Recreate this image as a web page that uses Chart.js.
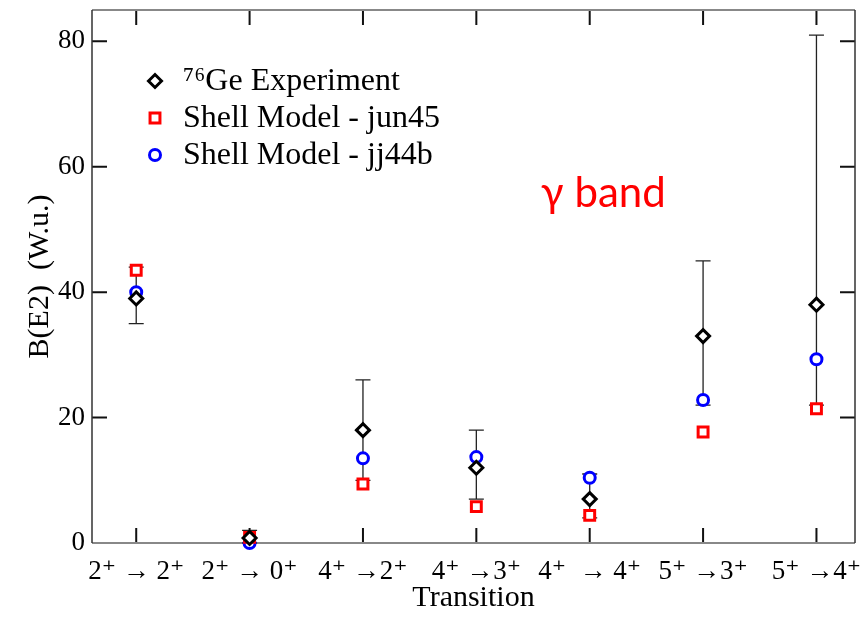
<!DOCTYPE html>
<html><head><meta charset="utf-8">
<script src="https://cdn.jsdelivr.net/npm/chart.js@4.4.1/dist/chart.umd.min.js"></script>
<style>html,body{margin:0;padding:0;background:#fff}#wrap{width:865px;height:620px}</style>
</head><body><div id="wrap"><canvas id="c" width="865" height="620"></canvas></div>
<script>
// ---- data ----
const categories = ['2\u207A \u2192 2\u207A', '2\u207A \u2192 0\u207A', '4\u207A \u21922\u207A', '4\u207A \u21923\u207A', '4\u207A  \u2192 4\u207A', '5\u207A \u21923\u207A', '5\u207A \u21924\u207A'];
const experiment = [39, 0.8, 18, 12, 7, 33, 38];
const expLow     = [35, 0.0, 10, 7, 4, 22, 22];
const expHigh    = [44, 2.0, 26, 18, 11, 45, 81];
const jun45      = [43.5, 0.9, 9.4, 5.8, 4.4, 17.7, 21.4];
const jj44b      = [40, 0.0, 13.5, 13.7, 10.4, 22.8, 29.3];
const yTicks     = [0, 20, 40, 60, 80];
const seriesNames = ['\u2077\u2076Ge Experiment', 'Shell Model - jun45', 'Shell Model - jj44b'];
const bandLabel = '\u03B3 band';

const SERIF = "'Liberation Serif', 'Times New Roman', 'DejaVu Serif', serif";
const toPts = arr => arr.map((v, i) => ({x: i + 1, y: v}));

const errorBars = {
  id: 'errorBars',
  beforeDatasetsDraw(chart) {
    const {ctx, scales: {x, y}} = chart;
    ctx.save();
    ctx.strokeStyle = '#222';
    ctx.lineWidth = 1.3;
    experiment.forEach((v, i) => {
      const px = x.getPixelForValue(i + 1);
      const yl = y.getPixelForValue(expLow[i]);
      const yh = y.getPixelForValue(expHigh[i]);
      ctx.beginPath();
      ctx.moveTo(px, yl); ctx.lineTo(px, yh);
      ctx.moveTo(px - 7.5, yl); ctx.lineTo(px + 7.5, yl);
      ctx.moveTo(px - 7.5, yh); ctx.lineTo(px + 7.5, yh);
      ctx.stroke();
    });
    ctx.restore();
  }
};

const frame = {
  id: 'frame',
  beforeDatasetsDraw(chart) {
    const {ctx, chartArea: a, scales: {x, y}} = chart;
    ctx.save();
    ctx.strokeStyle = '#111';
    ctx.lineWidth = 2;
    const L = 15;
    y.ticks.forEach(t => {
      const py = y.getPixelForValue(t.value);
      ctx.beginPath();
      ctx.moveTo(a.left, py); ctx.lineTo(a.left + L, py);
      ctx.moveTo(a.right, py); ctx.lineTo(a.right - L, py);
      ctx.stroke();
    });
    x.ticks.forEach(t => {
      const px = x.getPixelForValue(t.value);
      ctx.beginPath();
      ctx.moveTo(px, a.bottom); ctx.lineTo(px, a.bottom - L);
      ctx.moveTo(px, a.top); ctx.lineTo(px, a.top + L);
      ctx.stroke();
    });
    ctx.lineWidth = 2;
    ctx.strokeStyle = '#888';
    ctx.beginPath();
    ctx.moveTo(a.left, a.top); ctx.lineTo(a.right, a.top);
    ctx.moveTo(a.left, a.bottom); ctx.lineTo(a.right, a.bottom);
    ctx.stroke();
    ctx.strokeStyle = '#333';
    ctx.lineWidth = 1.5;
    ctx.beginPath();
    ctx.moveTo(a.left, a.top); ctx.lineTo(a.left, a.bottom);
    ctx.moveTo(a.right, a.top); ctx.lineTo(a.right, a.bottom);
    ctx.stroke();
    ctx.restore();
  }
};

function drawMarker(ctx, ds, mx, my) {
  ctx.save();
  ctx.fillStyle = ds.backgroundColor;
  ctx.strokeStyle = ds.borderColor;
  ctx.lineWidth = ds.borderWidth;
  Chart.helpers.drawPoint(ctx, {pointStyle: ds.pointStyle, radius: ds.pointRadius, borderWidth: ds.borderWidth, rotation: 0}, mx, my);
  ctx.restore();
}

const insideLegend = {
  id: 'insideLegend',
  afterDraw(chart) {
    const {ctx, chartArea: a} = chart;
    ctx.save();
    ctx.font = '32px ' + SERIF;
    ctx.textAlign = 'left';
    ctx.textBaseline = 'alphabetic';
    chart.data.datasets.forEach((ds, i) => {
      const base = a.top + 80 + i * 37;
      drawMarker(ctx, ds, a.left + 63, base - 9);
      ctx.fillStyle = '#000';
      ctx.fillText(ds.label, a.left + 91, base);
    });
    // gamma band annotation
    const {x, y} = chart.scales;
    ctx.font = "42px Lato, 'Open Sans', sans-serif";
    ctx.fillStyle = '#ff0000';
    ctx.textAlign = 'center';
    ctx.fillText(bandLabel, x.getPixelForValue(5.12), y.getPixelForValue(53.6));
    ctx.restore();
  }
};

new Chart(document.getElementById('c'), {
  type: 'scatter',
  data: {
    datasets: [
      {label: seriesNames[0], data: toPts(experiment), pointStyle: 'rectRot', pointRadius: 6.5, pointHoverRadius: 6.5,
       borderWidth: 3, borderColor: '#000', backgroundColor: '#fff', clip: false},
      {label: seriesNames[1], data: toPts(jun45), pointStyle: 'rect', pointRadius: 7, pointHoverRadius: 7,
       borderWidth: 3, borderColor: '#ff0000', backgroundColor: '#fff', clip: false},
      {label: seriesNames[2], data: toPts(jj44b), pointStyle: 'circle', pointRadius: 5.5, pointHoverRadius: 5.5,
       borderWidth: 3, borderColor: '#0000ff', backgroundColor: '#fff', clip: false}
    ]
  },
  options: {
    responsive: false,
    animation: false,
    events: [],
    layout: {padding: {top: 10, right: 10, left: 0, bottom: 0}},
    plugins: {legend: {display: false}, tooltip: {enabled: false}},
    scales: {
      x: {
        type: 'linear', min: 0.61, max: 7.34,
        afterBuildTicks: s => { s.ticks = categories.map((c, i) => ({value: i + 1})); },
        afterFit: s => { s.height = 77; s.paddingLeft = 0; s.paddingRight = 0; },
        grid: {display: false, drawTicks: false},
        border: {display: false},
        ticks: {
          autoSkip: false, maxRotation: 0, padding: 13, color: '#000',
          font: {family: SERIF, size: 27},
          callback: v => categories[Math.round(v) - 1]
        },
        title: {display: true, text: 'Transition', color: '#000', font: {family: SERIF, size: 30}, padding: {top: 0, bottom: 4}}
      },
      y: {
        type: 'linear', min: 0, max: 85,
        afterBuildTicks: s => { s.ticks = yTicks.map(v => ({value: v})); },
        afterFit: s => { s.width = 92; s.paddingTop = 0; s.paddingBottom = 0; },
        grid: {display: false, drawTicks: false},
        border: {display: false},
        ticks: {padding: 7, color: '#000', font: {family: SERIF, size: 27}},
        title: {display: true, text: 'B(E2)  (W.u.)', color: '#000', font: {family: SERIF, size: 30}, padding: {top: 22, bottom: 0}}
      }
    }
  },
  plugins: [frame, errorBars, insideLegend]
});
</script>
</body></html>
